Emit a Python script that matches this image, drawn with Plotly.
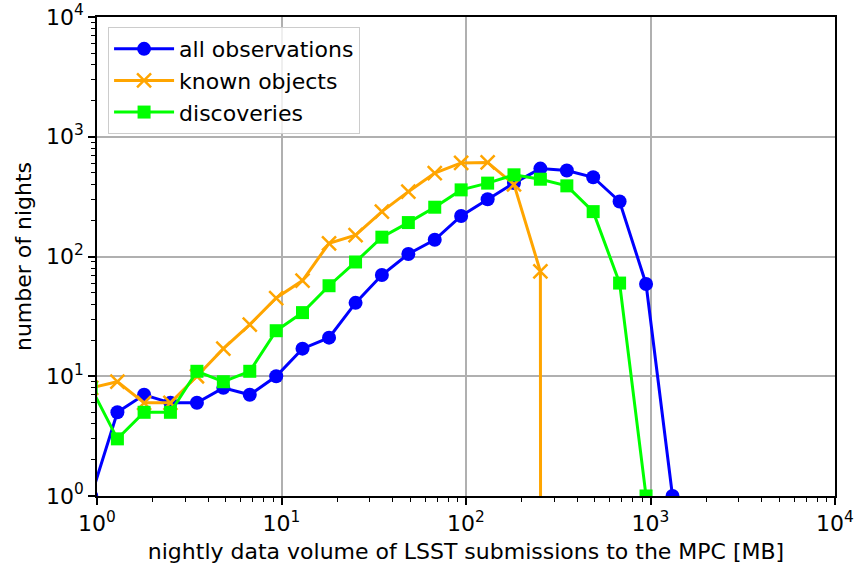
import plotly.graph_objects as go

# ----------- Data -----------
volume_mb = [0.93, 1.29, 1.80, 2.50, 3.48, 4.84, 6.73, 9.36, 13.0, 18.1, 25.2, 35.0,
             48.7, 67.7, 94.1, 131, 182, 253, 352, 489, 680, 946, 1316]

all_observations = [1, 5, 7, 6, 6, 8, 7, 10, 17, 21, 41, 70,
                    105, 138, 218, 301, 410, 542, 522, 459, 288, 59, 1]
known_objects = [8, 9, 6, 6, 10, 17, 27, 45, 63, 129, 151, 237,
                 348, 497, 605, 610, 400, 75, 0, 0, 0, 0, 0]
discoveries = [8, 3, 5, 5, 11, 9, 11, 24, 34, 57, 90, 145,
               192, 258, 360, 410, 481, 442, 389, 237, 60, 1, 0]

tick_vals = [1, 10, 100, 1000, 10000]
tick_text = ["10<sup>0</sup>", "10<sup>1</sup>", "10<sup>2</sup>", "10<sup>3</sup>", "10<sup>4</sup>"]


# zero counts can't sit on a log axis: push them far below the frame so the line drops straight down
def clip_zero(values):
    return [v if v > 0 else 1e-300 for v in values]


minor_vals = [m * 10 ** d for d in range(4) for m in range(2, 10)]

FONT = "DejaVu Sans"
FS = 22

fig = go.Figure()
fig.add_trace(go.Scatter(
    x=volume_mb, y=clip_zero(all_observations), mode='lines+markers', name='all observations',
    line=dict(color='#0000ff', width=3),
    marker=dict(symbol='circle', size=14, color='#0000ff')
))
fig.add_trace(go.Scatter(
    x=volume_mb, y=clip_zero(known_objects), mode='lines+markers', name='known objects',
    line=dict(color='#ffa500', width=3),
    marker=dict(symbol='x-thin', size=14, color='#ffa500', line=dict(color='#ffa500', width=2.5))
))
fig.add_trace(go.Scatter(
    x=volume_mb, y=clip_zero(discoveries), mode='lines+markers', name='discoveries',
    line=dict(color='#00ff00', width=3),
    marker=dict(symbol='square', size=13, color='#00ff00')
))

axis_style = dict(
    type='log', range=[0, 4], automargin=False, ticklabeloverflow='allow',
    tickmode='array', tickvals=tick_vals, ticktext=tick_text,
    ticks='outside', ticklen=7, tickwidth=1.5, tickcolor='black',
    showgrid=True, gridcolor='#b0b0b0', gridwidth=1.5,
    showline=True, linecolor='black', linewidth=1.5, mirror=True,
    zeroline=False,
    tickfont=dict(family=FONT, size=FS, color='black'),
    minor=dict(tickmode='array', tickvals=minor_vals, ticks='outside', ticklen=4,
               tickwidth=1, tickcolor='black', showgrid=False),
)

fig.update_xaxes(**axis_style,
                 title=dict(text='nightly data volume of LSST submissions to the MPC [MB]',
                            font=dict(family=FONT, size=FS, color='black'), standoff=8))
fig.update_yaxes(**axis_style,
                 title=dict(text='number of nights',
                            font=dict(family=FONT, size=FS, color='black'), standoff=8))

fig.update_layout(
    width=855, height=573,
    plot_bgcolor='white', paper_bgcolor='white',
    margin=dict(l=97, r=20, t=17, b=77),
    font=dict(family=FONT, size=FS, color='black'),
    showlegend=True,
    legend=dict(
        x=0.015, y=0.979, xanchor='left', yanchor='top', itemwidth=60,
        bgcolor='rgba(255,255,255,0.8)', bordercolor='#cccccc', borderwidth=1,
        font=dict(family=FONT, size=FS, color='black'),
    ),
)

# drop the default 8px page margin so the figure fills the window exactly
fig.write_html("out.html", config={'displayModeBar': False},
               post_script="document.body.style.margin = '0';")
